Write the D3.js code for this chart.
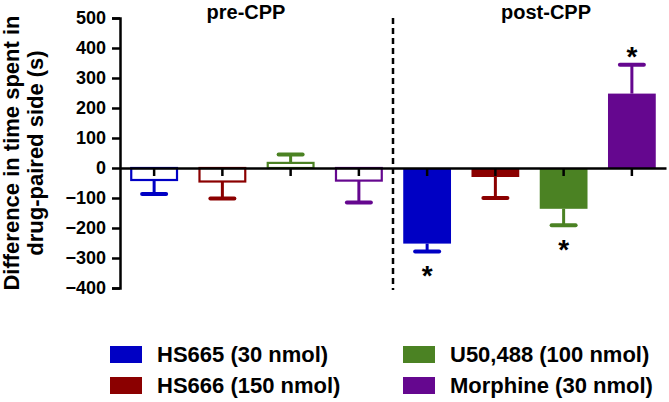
<!DOCTYPE html>
<html>
<head>
<meta charset="utf-8">
<script src="https://cdn.jsdelivr.net/npm/d3@7"></script>
<style>
  body { margin: 0; background: #fff; }
  svg { display: block; font-family: Arial, "Liberation Sans", sans-serif; font-weight: bold; }
</style>
</head>
<body>
<svg id="chart"></svg>
<script>
const phases = ['pre-CPP', 'post-CPP'];
const drugs = ['HS665 (30 nmol)', 'HS666 (150 nmol)', 'U50,488 (100 nmol)', 'Morphine (30 nmol)'];
const colors = ['#0000c4', '#8b0000', '#4b8223', '#65078f'];
const preMeans = [-40, -45, 17, -42];
const preSem = [47, 57, 28, 73];
const postMeans = [-252, -30, -136, 248];
const postSem = [26, 70, 55, 96];
const postSignificant = [true, false, true, true];
const yTicks = [500, 400, 300, 200, 100, 0, -100, -200, -300, -400];

const W = 669, H = 402;
const margin = {top: 18, right: 3, bottom: 114, left: 120};

const svg = d3.select('#chart').attr('width', W).attr('height', H);

const bars = [];
phases.forEach((phase, p) => {
    drugs.forEach((drug, i) => {
        bars.push({
            key: phase + '|' + drug,
            phase: p,
            drug: i,
            mean: p === 0 ? preMeans[i] : postMeans[i],
            sem: p === 0 ? preSem[i] : postSem[i],
            sig: p === 1 && postSignificant[i]
        });
    });
});

const xScale = d3.scaleBand()
    .domain(bars.map(d => d.key))
    .range([margin.left, W - margin.right])
    .paddingInner(0.3)
    .paddingOuter(0.15);

const yScale = d3.scaleLinear().domain([-400, 500]).range([H - margin.bottom, margin.top]);

// bars (pre = outlined, post = filled)
const barG = svg.append('g');
barG.selectAll('rect')
    .data(bars)
    .join('rect')
    .attr('x', d => xScale(d.key) + (d.phase === 0 ? 1 : 0))
    .attr('width', d => xScale.bandwidth() - (d.phase === 0 ? 2 : 0))
    .attr('y', d => yScale(Math.max(0, d.mean)))
    .attr('height', d => Math.abs(yScale(d.mean) - yScale(0)))
    .attr('fill', d => d.phase === 0 ? '#fff' : colors[d.drug])
    .attr('stroke', d => d.phase === 0 ? colors[d.drug] : 'none')
    .attr('stroke-width', 2.2);

// error bars, only on the outer side
const errEnd = d => d.mean + Math.sign(d.mean) * d.sem;
const errG = svg.append('g');
errG.selectAll('line.stem')
    .data(bars)
    .join('line')
    .attr('class', 'stem')
    .attr('x1', d => xScale(d.key) + xScale.bandwidth() / 2)
    .attr('x2', d => xScale(d.key) + xScale.bandwidth() / 2)
    .attr('y1', d => yScale(d.mean))
    .attr('y2', d => yScale(errEnd(d)))
    .attr('stroke', d => colors[d.drug])
    .attr('stroke-width', 3);
errG.selectAll('line.cap')
    .data(bars)
    .join('line')
    .attr('class', 'cap')
    .attr('x1', d => xScale(d.key) + xScale.bandwidth() / 2 - 12)
    .attr('x2', d => xScale(d.key) + xScale.bandwidth() / 2 + 12)
    .attr('y1', d => yScale(errEnd(d)))
    .attr('y2', d => yScale(errEnd(d)))
    .attr('stroke', d => colors[d.drug])
    .attr('stroke-width', 4)
    .attr('stroke-linecap', 'round');

// asterisks
svg.append('g').selectAll('text')
    .data(bars.filter(d => d.sig))
    .join('text')
    .attr('x', d => xScale(d.key) + xScale.bandwidth() / 2)
    .attr('y', d => d.mean < 0 ? yScale(errEnd(d)) + 34 : yScale(errEnd(d)) + 1)
    .attr('text-anchor', 'middle')
    .attr('font-size', 28)
    .attr('fill', '#000')
    .text('*');

// x axis along zero
const xAxis = d3.axisBottom(xScale).tickSize(8).tickSizeOuter(0).tickFormat('');
const xAxisG = svg.append('g')
    .attr('transform', `translate(0, ${yScale(0)})`)
    .call(xAxis);
xAxisG.select('.domain').attr('stroke-width', 2.5);
xAxisG.selectAll('.tick line').attr('stroke-width', 2.5);

// y axis
const yAxis = d3.axisLeft(yScale).tickValues(yTicks).tickSize(8).tickPadding(6);
const yAxisG = svg.append('g')
    .attr('transform', `translate(${margin.left}, 0)`)
    .call(yAxis);
yAxisG.select('.domain').attr('stroke-width', 2.5);
yAxisG.selectAll('.tick line').attr('stroke-width', 2.5);
yAxisG.selectAll('.tick text')
    .attr('font-size', 18)
    .attr('font-family', 'Arial, "Liberation Sans", sans-serif')
    .attr('font-weight', 'bold')
    .attr('fill', '#000');

// dashed divider between phases
const divX = (xScale(bars[3].key) + xScale.bandwidth() + xScale(bars[4].key)) / 2;
svg.append('line')
    .attr('x1', divX).attr('x2', divX)
    .attr('y1', yScale(500)).attr('y2', yScale(-400) + 2)
    .attr('stroke', '#000')
    .attr('stroke-width', 2.5)
    .attr('stroke-dasharray', '6,4');

// phase titles
svg.append('g').selectAll('text')
    .data(phases)
    .join('text')
    .attr('x', (d, i) => i === 0 ? 246 : 546)
    .attr('y', 19)
    .attr('text-anchor', 'middle')
    .attr('font-size', 20)
    .attr('fill', '#000')
    .text(d => d);

// y axis title
const yTitle = svg.append('text')
    .attr('transform', `translate(0, ${(yScale(500) + yScale(-400)) / 2}) rotate(-90)`)
    .attr('text-anchor', 'middle')
    .attr('font-size', 22)
    .attr('fill', '#000');
yTitle.append('tspan').attr('x', 0).attr('y', 19).text('Difference in time spent in');
yTitle.append('tspan').attr('x', 0).attr('y', 43).text('drug-paired side (s)');

// legend, two columns
const legendCols = [110, 403];
const legendRows = [346, 377];
const legend = svg.append('g').selectAll('g')
    .data(drugs)
    .join('g')
    .attr('transform', (d, i) => `translate(${legendCols[Math.floor(i / 2)]}, ${legendRows[i % 2]})`);
legend.append('rect')
    .attr('width', 32)
    .attr('height', 17)
    .attr('fill', (d, i) => colors[i]);
legend.append('text')
    .attr('x', 47)
    .attr('y', 16)
    .attr('font-size', 22)
    .attr('fill', '#000')
    .text(d => d);
</script>
</body>
</html>
